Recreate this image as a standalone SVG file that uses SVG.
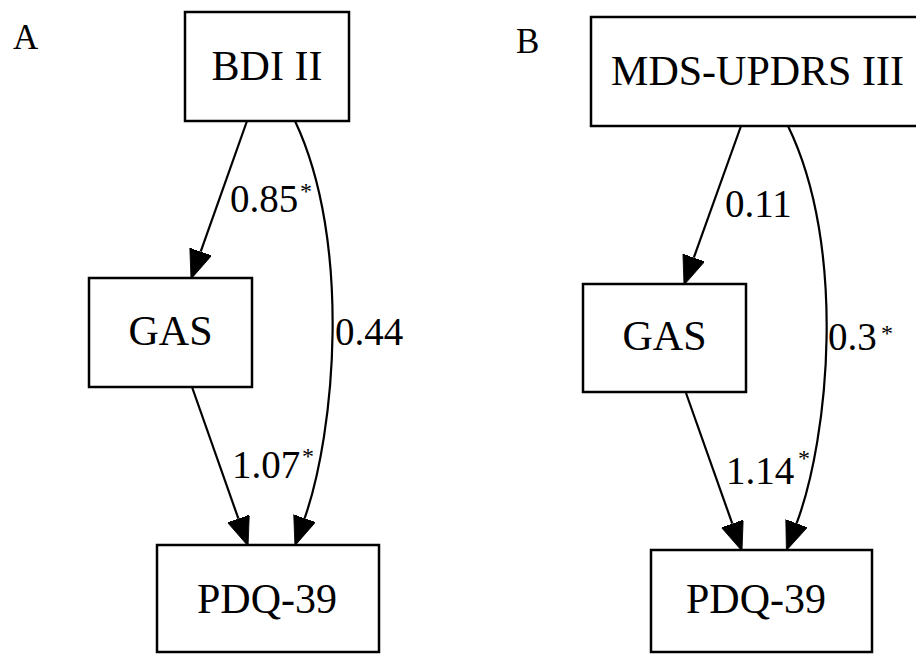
<svg xmlns="http://www.w3.org/2000/svg" width="916" height="654" viewBox="0 0 916 654">
<style>
.box{fill:#fff;stroke:#000;stroke-width:2.5}
.nt{font-family:"Liberation Serif","Times New Roman",serif;font-size:42px;fill:#000;text-anchor:middle}
.lb{font-family:"Liberation Serif","Times New Roman",serif;font-size:39px;fill:#000}
.st{font-family:"Liberation Serif","Times New Roman",serif;font-size:24px;fill:#000}
.pn{font-family:"Liberation Serif","Times New Roman",serif;font-size:35px;fill:#000}
.edge{fill:none;stroke:#000;stroke-width:2.2;marker-end:url(#ah)}
</style>
<defs>
<marker id="ah" markerUnits="userSpaceOnUse" markerWidth="30" markerHeight="24" refX="0" refY="11.5" orient="auto" viewBox="0 0 30 24">
<path d="M0,0 L29,11.5 L0,23 Z" fill="#000" stroke="#000" stroke-width="0.8"/>
</marker>
</defs>
<rect width="916" height="654" fill="#fff"/>
<text class="pn" x="13" y="49">A</text>
<text class="pn" x="516" y="53">B</text>

<g id="connectors">
<path class="edge" d="M247,121 L200.7,251.7"/>
<path class="edge" d="M192,387 L238.4,518.7"/>
<path class="edge" d="M295,121 C352,242 335,432 304.6,518.3"/>
<path class="edge" d="M741,126 L693.8,257.7"/>
<path class="edge" d="M686,393 L732.3,523.7"/>
<path class="edge" d="M788,126 C847,247 829,437 796.6,523.3"/>
<text class="lb" x="230" y="212">0.85</text><text class="st" x="300" y="199">*</text>
<text class="lb" x="335" y="345">0.44</text>
<text class="lb" x="232" y="478">1.07</text><text class="st" x="302" y="464">*</text>
<text class="lb" x="725" y="217">0.11</text>
<text class="lb" x="828" y="350">0.3</text><text class="st" x="881" y="341">*</text>
<text class="lb" x="726" y="484">1.14</text><text class="st" x="798" y="466">*</text>
</g>

<g id="bdi">
<rect class="box" x="185" y="12" width="164" height="109"/>
<text class="nt" x="267" y="80">BDI II</text>
</g>
<g id="gasA">
<rect class="box" x="89" y="278" width="163" height="109"/>
<text class="nt" x="170.5" y="345">GAS</text>
</g>
<g id="pdqA">
<rect class="box" x="157" y="545" width="222" height="107"/>
<text class="nt" x="267" y="613">PDQ-39</text>
</g>
<g id="mds">
<rect class="box" x="591" y="17" width="335" height="109"/>
<text class="nt" x="757.5" y="85">MDS-UPDRS III</text>
</g>
<g id="gasB">
<rect class="box" x="583" y="284" width="163" height="108"/>
<text class="nt" x="664.5" y="350">GAS</text>
</g>
<g id="pdqB">
<rect class="box" x="651" y="550" width="221" height="102"/>
<text class="nt" x="756" y="613">PDQ-39</text>
</g>
</svg>
